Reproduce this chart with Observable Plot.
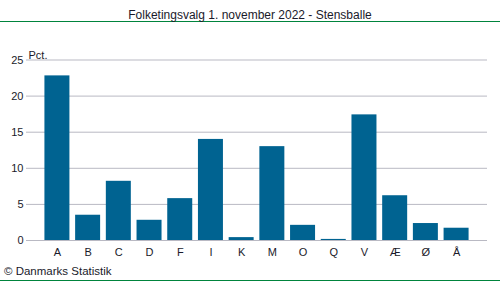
<!DOCTYPE html>
<html><head><meta charset="utf-8">
<script src="https://cdn.jsdelivr.net/npm/d3@7"></script>
<script src="https://cdn.jsdelivr.net/npm/@observablehq/plot@0.6"></script>
<style>
body{margin:0;background:#fff;font-family:"Liberation Sans",Arial,sans-serif;}
#wrap{position:relative;width:500px;height:282px;overflow:hidden;}
#title{position:absolute;left:0;top:0;width:500px;height:21px;border-bottom:1.5px solid #00843d;text-align:center;font-size:12px;line-height:30px;color:#1a1a2a;}
#title span{position:relative;top:0px;}
#chart{position:absolute;left:0;top:23px;}
#cap{position:absolute;left:4px;top:265px;font-size:11.5px;color:#1a1a2a;}
#bot{position:absolute;left:0;top:280px;width:500px;height:0;border-top:1.5px solid #00843d;}
</style></head>
<body><div id="wrap">
<div id="title"><span>Folketingsvalg 1. november 2022 - Stensballe</span></div>
<div id="chart"></div>
<div id="cap">© Danmarks Statistik</div>
<div id="bot"></div>
</div>
<script>
const parties = ["A","B","C","D","F","I","K","M","O","Q","V","Æ","Ø","Å"];
const pct = [22.8,3.5,8.2,2.8,5.8,14.0,0.4,13.0,2.1,0.15,17.4,6.2,2.35,1.7];
const yTicks = [0,5,10,15,20,25];
const data = parties.map((p,i)=>({party:p, value:pct[i]}));
const grid = "#b9b9c3";
const chart = Plot.plot({
  width: 500, height: 240,
  marginLeft: 26, marginRight: 13, marginTop: 36.5, marginBottom: 23,
  style:{fontFamily:'"Liberation Sans",Arial,sans-serif', fontSize:"11px", color:"#1a1a2a", background:"transparent"},
  x:{domain:parties, paddingInner:0.186, paddingOuter:0.6, round:false, label:null},
  y:{domain:[0,25], label:null},
  marks:[
    Plot.ruleY(yTicks,{stroke:grid, strokeWidth:1}),
    Plot.barY(data,{x:"party", y:"value", fill:"#006391"}),
    Plot.axisY({ticks:yTicks, tickSize:0, tickPadding:3, label:null, fontSize:11}),
    Plot.axisX({tickSize:0, tickPadding:8, label:null, fontSize:11}),
    Plot.text(["Pct."],{frameAnchor:"top-left", dx:2, dy:-9, textAnchor:"start", fontSize:11})
  ]
});
document.getElementById("chart").appendChild(chart);
</script>
</body></html>
